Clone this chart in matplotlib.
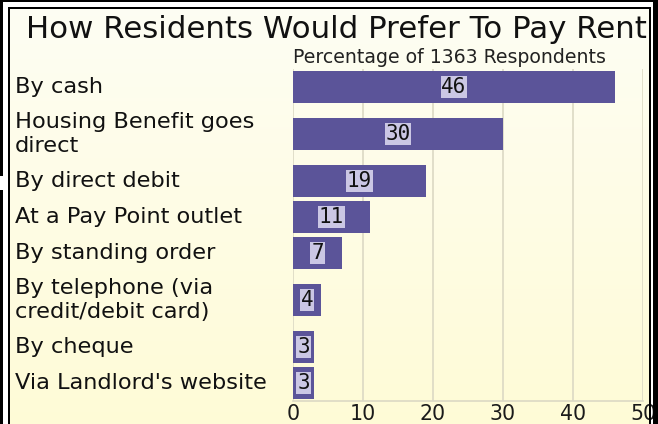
import matplotlib
matplotlib.use("Agg")
import matplotlib.pyplot as plt
import numpy as np
from matplotlib.patches import Rectangle

categories = ["By cash", "Housing Benefit goes\ndirect", "By direct debit",
              "At a Pay Point outlet", "By standing order",
              "By telephone (via\ncredit/debit card)", "By cheque",
              "Via Landlord's website"]
values = [46, 30, 19, 11, 7, 4, 3, 3]
xticks = [0, 10, 20, 30, 40, 50]
title = "How Residents Would Prefer To Pay Rent"
subtitle = "Percentage of 1363 Respondents"

W, H = 658, 424
fig = plt.figure(figsize=(W / 100, H / 100), dpi=100)
fig.patch.set_facecolor("white")

# background gradient inside frame
bg = fig.add_axes([9 / W, 0, (650 - 9) / W, 1 - 8 / H], zorder=0)
grad = np.linspace(0, 1, 256)[:, None]
c_top = np.array([0.995, 0.995, 0.955])
c_bot = np.array([1.0, 0.985, 0.84])
img = c_top[None, None, :] * (1 - grad[..., None]) + c_bot[None, None, :] * grad[..., None]
bg.imshow(img, aspect="auto", extent=[0, 1, 0, 1])
bg.set_axis_off()

# frame decorations (figure pixel coords)
def prect(x0, y0, x1, y1, **kw):
    fig.patches.append(Rectangle((x0 / W, 1 - y1 / H), (x1 - x0) / W, (y1 - y0) / H,
                                 transform=fig.transFigure, figure=fig, **kw))

prect(0, 0, W, 1.5, facecolor="black", edgecolor="none", zorder=5)
prect(0, 0, 2.5, 176, facecolor="black", edgecolor="none", zorder=5)
prect(0, 190, 2.5, H, facecolor="black", edgecolor="none", zorder=5)
prect(653, 0, W, H, facecolor="black", edgecolor="none", zorder=5)
prect(8, 7, 10, H, facecolor="black", edgecolor="none", zorder=5)
prect(8, 7, 651, 9, facecolor="black", edgecolor="none", zorder=5)
prect(649, 7, 651, H, facecolor="black", edgecolor="none", zorder=5)

# row layout derived from label line counts
nlines = [c.count("\n") + 1 for c in categories]
row_h = [22 * n + 14 for n in nlines]
edges = np.concatenate([[0], np.cumsum(row_h)])
centers = (edges[:-1] + edges[1:]) / 2
total = edges[-1]

ax = fig.add_axes([293 / W, 1 - 401 / H, (643 - 293) / W, (401 - 69) / H], zorder=1)
ax.patch.set_alpha(0)
ax.barh(centers, values, height=32, color="#5b5499", zorder=2)
ax.set_ylim(total, 0)
ax.set_xlim(0, 50)
ax.set_xticks(xticks)
ax.set_xticklabels([str(t) for t in xticks], fontsize=14.8, color="#1a1a1a")
ax.tick_params(axis="x", length=0, pad=2)
ax.set_yticks([])
ax.grid(axis="x", color="#dcd9c4", linewidth=1.2, zorder=0)
for s in ["top", "right", "left"]:
    ax.spines[s].set_visible(False)
ax.spines["bottom"].set_color("#dcd9c4")
ax.spines["bottom"].set_linewidth(1.2)

for yc, v in zip(centers, values):
    ax.text(v / 2, yc, str(v), ha="center", va="center", fontsize=15,
            family="DejaVu Sans Mono", color="#111111", zorder=3,
            bbox=dict(boxstyle="square,pad=0.04", facecolor="#cbc7e4", edgecolor="none"))

for yc, lab in zip(centers, categories):
    ax.text(-278 / 7.0, yc, lab, ha="left", va="center", fontsize=16.2,
            color="#111111", linespacing=1.25, transform=ax.transData, clip_on=False)

fig.text(336 / W, 1 - 29 / H, title, ha="center", va="center", fontsize=22.2, color="#111111")
ax.text(0, 1.005, subtitle, transform=ax.transAxes, ha="left", va="bottom",
        fontsize=13.6, color="#222222")

fig.savefig("out.png", dpi=100)
